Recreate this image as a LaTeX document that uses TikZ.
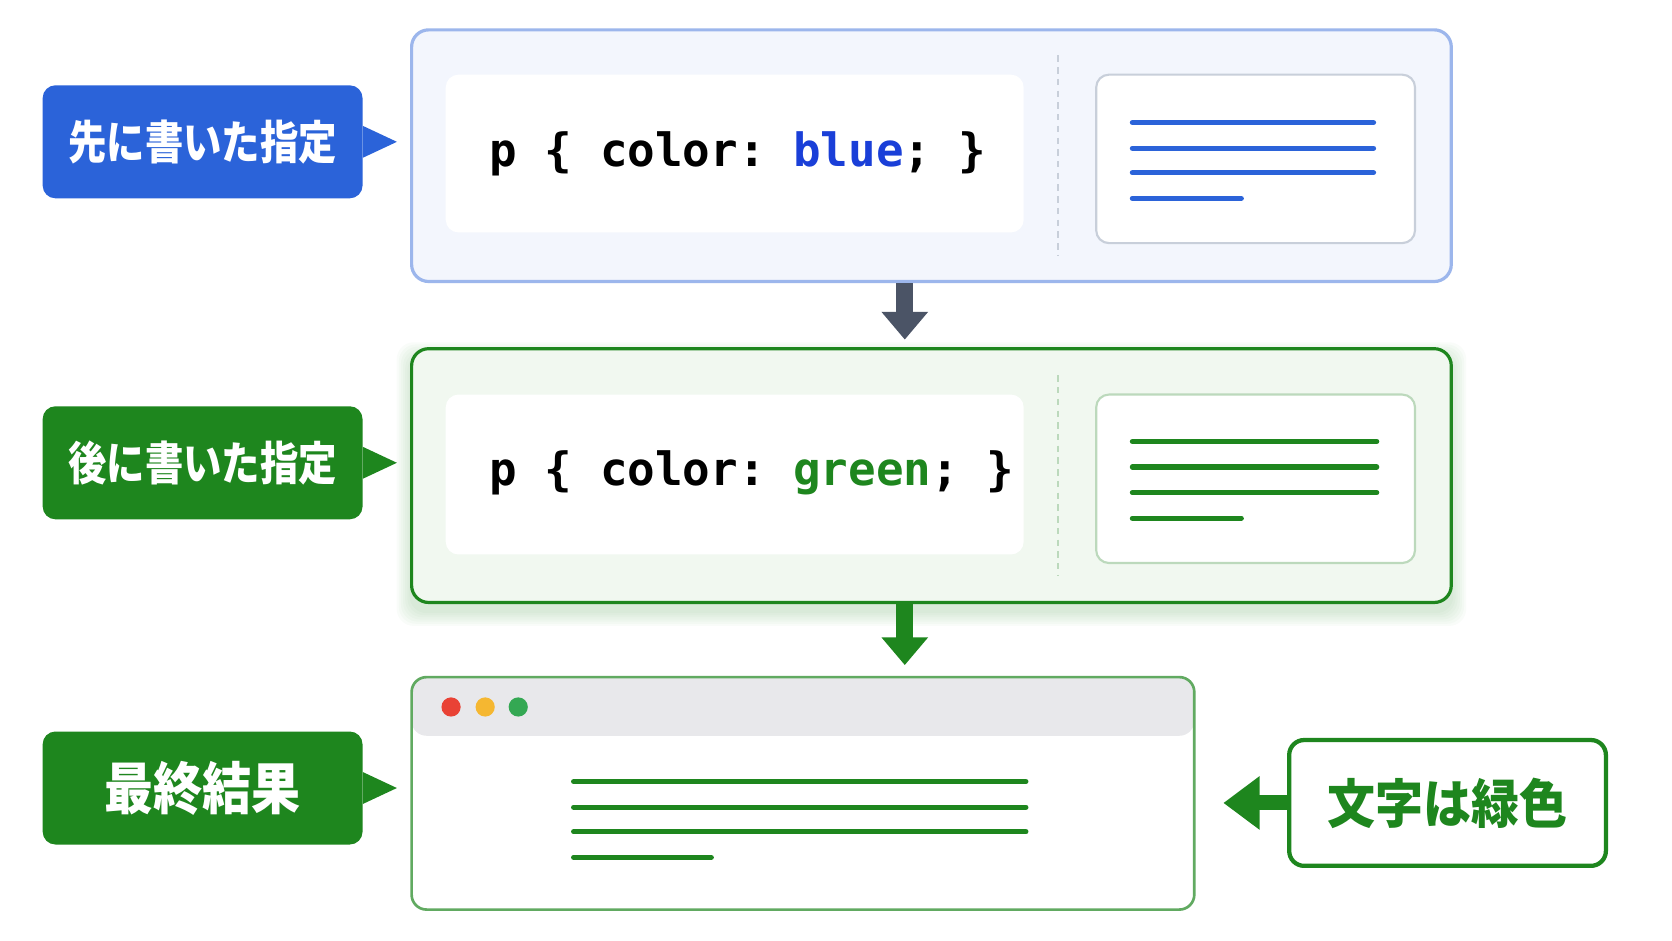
\documentclass[tikz,border=0pt]{standalone}
\usepackage{fontspec}
\newfontfamily\jpfont{Noto Sans CJK JP}
\newfontfamily\codefont{DejaVu Sans Mono}
\usetikzlibrary{arrows.meta}
\frenchspacing

\definecolor{blueC}{HTML}{2B63D9}
\definecolor{codeBlue}{HTML}{1A3FD8}
\definecolor{greenC}{HTML}{1E861E}
\definecolor{panelBlueFill}{HTML}{F3F6FD}
\definecolor{panelBlueDraw}{HTML}{9CB6EC}
\definecolor{panelGreenFill}{HTML}{F1F8F0}
\definecolor{prevBlueDraw}{HTML}{C8CFDA}
\definecolor{prevGreenDraw}{HTML}{BCD9BC}
\definecolor{grayArrow}{HTML}{4B5466}
\definecolor{titleGray}{HTML}{E8E8EB}
\definecolor{dotRed}{HTML}{E94235}
\definecolor{dotYellow}{HTML}{F5B731}
\definecolor{dotGreen}{HTML}{34A853}

\tikzset{
  tag/.style={rounded corners=12pt, minimum width=300pt, minimum height=106pt, text=white,
    font=\jpfont\bfseries\fontsize{36}{36}\selectfont},
  panel/.style={rounded corners=16pt, line width=3pt, minimum width=975pt},
  codebox/.style={fill=white, rounded corners=12pt, minimum width=542pt},
  codetext/.style={anchor=west, inner sep=0pt, font=\codefont\bfseries\fontsize{43}{43}\selectfont},
  preview/.style={fill=white, rounded corners=12pt, line width=2pt, minimum width=299pt, minimum height=158pt},
  txtline/.style={line width=5pt, line cap=round},
  bigarrow/.style={line width=16pt, -{Triangle[width=42pt,length=26pt]}},
}

\begin{document}
\begin{tikzpicture}[x=1pt, y=-1pt]
\useasboundingbox[fill=white] (0,0) rectangle (1568,882);

% first rule
\draw (873.5,146) node[panel, draw=panelBlueDraw, fill=panelBlueFill, minimum height=236pt] (step1) {};
\draw (689,144) node[codebox, minimum height=148pt] (code1) {};
\draw (459,144) node[codetext] (txt1) {p \{ color: \textcolor{codeBlue}{blue}; \}};
\draw[prevBlueDraw, line width=1.5pt, dash pattern=on 6pt off 5pt] (992,52) -- (992,240);
\draw (1177.5,149) node[preview, draw=prevBlueDraw] (prev1) {};
\foreach \y in {115,139,162} \draw[txtline, blueC] (1062,\y) -- (1288,\y);
\draw[txtline, blueC] (1062,186) -- (1164,186);

% second rule
\foreach \d in {2,4,...,14}
  \fill[greenC, opacity=0.025, rounded corners=16pt] (386-\d,335-\d) rectangle (1361+\d,573+\d);
\draw (873.5,446) node[panel, draw=greenC, fill=panelGreenFill, minimum height=238pt] (step2) {};
\draw (689,445) node[codebox, minimum height=150pt] (code2) {};
\draw (459,443) node[codetext] (txt2) {p \{ color: \textcolor{greenC}{green}; \}};
\draw[prevGreenDraw, line width=1.5pt, dash pattern=on 6pt off 5pt] (992,352) -- (992,540);
\draw (1177.5,449) node[preview, draw=prevGreenDraw] (prev2) {};
\foreach \y in {414,438,462} \draw[txtline, greenC] (1062,\y) -- (1291,\y);
\draw[txtline, greenC] (1062,486) -- (1164,486);

% result
\draw (753,744) node[fill=white, draw=greenC!70!white, line width=2.5pt, rounded corners=14pt,
  minimum width=734pt, minimum height=218pt,
  path picture={\fill[titleGray] (path picture bounding box.north west) rectangle ([yshift=-55pt]path picture bounding box.north east);}] (result) {};
\fill[dotRed] (423,663) circle (9);
\fill[dotYellow] (455,663) circle (9);
\fill[dotGreen] (486,663) circle (9);
\foreach \y in {733,757,780} \draw[txtline, greenC] (538,\y) -- (962,\y);
\draw[txtline, greenC] (538,804) -- (667,804);

\draw (1357.5,753) node[fill=white, draw=greenC, line width=4pt, rounded corners=14pt,
  minimum width=297pt, minimum height=118pt, text=greenC,
  font=\jpfont\bfseries\fontsize{45}{45}\selectfont] (note) {\scalebox{1}[1.1]{文字は緑色}};

% tags
\draw (190,133) node[tag, fill=blueC] (tag1) {\scalebox{1}[1.2]{先に書いた指定}};
\draw (190,434) node[tag, fill=greenC] (tag2) {\scalebox{1}[1.2]{後に書いた指定}};
\draw (190,739) node[tag, fill=greenC, font=\jpfont\bfseries\fontsize{46}{46}\selectfont] (tag3) {\scalebox{1}[1.15]{最終結果}};
\fill[blueC] ([yshift=15pt]tag1.east) -- ([xshift=32pt]tag1.east) -- ([yshift=-15pt]tag1.east) -- cycle;
\fill[greenC] ([yshift=15pt]tag2.east) -- ([xshift=32pt]tag2.east) -- ([yshift=-15pt]tag2.east) -- cycle;
\fill[greenC] ([yshift=15pt]tag3.east) -- ([xshift=32pt]tag3.east) -- ([yshift=-15pt]tag3.east) -- cycle;

% arrows
\draw[bigarrow, grayArrow, shorten >=7pt] ([xshift=-25pt]step1.south) -- ([xshift=-25pt]step2.north);
\draw[bigarrow, greenC, shorten >=10pt] ([xshift=-25pt]step2.south) -- ([xshift=-25pt]step2.south |- result.north);
\draw[greenC, line width=14pt, -{Triangle[width=48pt,length=34pt]}, shorten >=26pt] (note.west) -- (note.west -| result.east);
\end{tikzpicture}
\end{document}
